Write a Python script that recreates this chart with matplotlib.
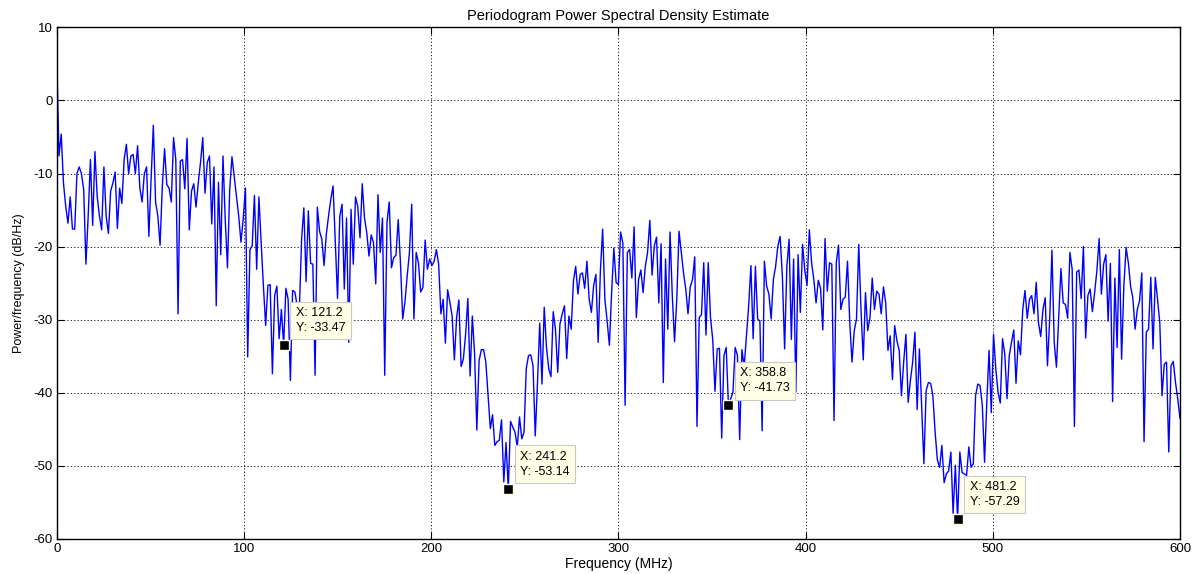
import numpy as np
import matplotlib
matplotlib.use("Agg")
import matplotlib.pyplot as plt

# ---- data ----
freq_step_mhz = 1.2
psd_db = [
    6.0, -7.6, -4.6, -11.3, -14.5, -16.8, -13.2, -17.6, -17.6, -10.0,
    -9.1, -10.0, -12.2, -22.4, -15.8, -8.1, -17.1, -7.0, -13.1, -15.8,
    -17.7, -9.1, -15.8, -18.2, -12.4, -11.3, -9.8, -17.5, -12.0, -14.1,
    -8.1, -6.0, -10.0, -7.6, -7.4, -10.0, -6.2, -12.0, -13.9, -10.0,
    -9.1, -18.6, -10.8, -3.4, -13.9, -15.8, -19.8, -11.7, -6.6, -11.5,
    -12.0, -13.9, -5.1, -8.1, -29.2, -8.3, -8.1, -12.1, -5.2, -17.7,
    -12.4, -11.4, -14.6, -11.3, -8.5, -5.1, -12.7, -8.5, -7.6, -16.9,
    -9.1, -28.1, -11.2, -21.1, -7.6, -16.3, -22.9, -12.2, -7.7, -10.4,
    -13.1, -15.8, -19.4, -16.2, -12.0, -35.1, -20.4, -19.9, -13.0, -23.1,
    -13.2, -19.5, -25.4, -30.8, -25.3, -25.2, -37.4, -26.7, -25.4, -32.6,
    -28.6, -33.47, -25.7, -27.2, -38.3, -26.0, -26.2, -28.1, -28.6, -19.0,
    -14.7, -24.8, -15.1, -22.3, -22.4, -37.6, -14.6, -17.9, -19.0, -22.6,
    -18.3, -15.8, -13.5, -11.7, -19.5, -27.1, -15.8, -14.2, -25.8, -16.1,
    -33.1, -14.9, -22.4, -13.2, -14.5, -18.8, -11.4, -16.1, -18.1, -21.3,
    -18.4, -19.5, -25.1, -12.9, -20.8, -16.1, -37.6, -16.7, -13.9, -22.9,
    -21.5, -21.2, -16.3, -22.2, -29.9, -27.6, -24.0, -20.8, -14.2, -29.9,
    -20.8, -22.2, -26.2, -25.6, -19.1, -23.1, -21.7, -22.6, -22.0, -20.4,
    -22.4, -29.2, -27.2, -33.2, -25.9, -27.6, -29.5, -35.5, -29.7, -27.3,
    -36.4, -35.4, -32.0, -27.1, -37.7, -29.5, -34.7, -45.1, -35.6, -34.1,
    -34.1, -35.8, -40.3, -44.9, -43.0, -47.2, -46.7, -46.5, -43.7, -52.2,
    -46.8, -53.14, -43.9, -44.7, -45.4, -47.4, -43.3, -46.3, -45.4, -36.7,
    -34.9, -34.8, -36.3, -45.9, -38.6, -30.5, -38.8, -28.3, -33.8, -36.7,
    -37.8, -28.9, -31.3, -37.2, -30.6, -29.2, -28.1, -35.3, -29.5, -31.3,
    -24.7, -22.7, -26.5, -23.8, -23.6, -25.7, -22.0, -27.2, -29.0, -25.3,
    -23.8, -33.1, -23.3, -17.6, -27.2, -30.2, -33.5, -26.3, -20.2, -24.9,
    -25.2, -18.0, -19.5, -41.7, -20.8, -20.4, -24.3, -17.3, -29.7, -24.5,
    -23.2, -26.3, -22.7, -20.8, -16.4, -23.9, -19.9, -18.7, -27.7, -19.6,
    -38.6, -21.7, -31.3, -18.0, -26.7, -33.0, -27.2, -17.9, -20.8, -23.6,
    -25.8, -29.2, -25.5, -24.5, -21.4, -44.6, -29.7, -29.3, -22.2, -32.1,
    -22.2, -29.7, -32.7, -39.8, -34.0, -33.9, -46.2, -34.9, -33.8, -41.73,
    -40.8, -39.9, -33.8, -34.9, -46.4, -34.1, -36.4, -32.2, -28.1, -22.6,
    -32.6, -22.7, -29.9, -30.2, -45.2, -22.0, -25.4, -26.5, -29.9, -24.5,
    -22.7, -19.9, -18.6, -24.0, -34.0, -22.7, -19.0, -32.7, -21.7, -39.9,
    -21.1, -29.0, -19.7, -23.3, -25.3, -17.7, -22.2, -24.5, -27.7, -24.6,
    -25.7, -31.4, -18.9, -26.1, -22.2, -22.4, -43.8, -22.2, -19.8, -28.6,
    -27.2, -26.9, -22.0, -30.4, -35.8, -31.5, -29.9, -19.7, -28.6, -35.5,
    -26.3, -31.5, -29.7, -24.3, -28.6, -26.1, -26.5, -29.2, -25.5, -27.7,
    -34.2, -32.2, -38.2, -30.8, -32.9, -34.2, -40.4, -35.8, -32.0, -41.3,
    -38.3, -35.8, -31.7, -42.3, -34.0, -41.7, -49.7, -39.7, -38.6, -38.7,
    -40.4, -45.4, -49.2, -50.2, -47.2, -52.3, -51.1, -50.7, -48.1, -56.5,
    -49.9, -57.29, -48.1, -50.9, -51.1, -51.3, -47.4, -50.2, -49.7, -40.4,
    -38.8, -39.0, -41.7, -49.5, -41.3, -34.2, -42.7, -32.0, -36.7, -39.9,
    -41.4, -32.6, -34.7, -40.8, -34.9, -33.1, -31.4, -38.7, -32.9, -34.8,
    -28.6, -26.0, -29.8, -27.2, -26.7, -29.2, -24.9, -30.4, -32.3, -28.6,
    -27.0, -36.3, -29.9, -20.5, -33.1, -36.5, -29.9, -23.0, -27.7, -27.9,
    -29.8, -20.8, -23.1, -44.6, -23.5, -23.2, -27.1, -20.0, -32.5, -26.7,
    -25.8, -28.9, -26.3, -23.3, -18.9, -26.5, -22.4, -21.1, -30.2, -22.3,
    -41.2, -24.3, -33.8, -20.4, -35.4, -25.4, -20.1, -22.2, -25.4, -27.0,
    -31.3, -28.6, -27.4, -23.6, -46.7, -31.7, -31.3, -24.2, -34.0, -24.2,
    -27.2, -30.4, -40.4, -36.1, -35.8, -48.1, -36.3, -35.7, -38.6, -40.8,
    -43.5,
]
freq_mhz = np.arange(len(psd_db)) * freq_step_mhz

tip_x = [121.2, 241.2, 358.8, 481.2]
tip_y = [-33.47, -53.14, -41.73, -57.29]

x_ticks = [0, 100, 200, 300, 400, 500, 600]
y_ticks = [-60, -50, -40, -30, -20, -10, 0, 10]

title_text = "Periodogram Power Spectral Density Estimate"
x_label = "Frequency (MHz)"
y_label = "Power/frequency (dB/Hz)"

# ---- drawing ----
plt.rcParams['font.family'] = ['Liberation Sans', 'DejaVu Sans']
plt.rcParams['axes.unicode_minus'] = False
fig = plt.figure(figsize=(12.02, 5.74), dpi=100)
ax = fig.add_axes([0.0472, 0.0610, 0.9345, 0.8914])

ax.plot(freq_mhz, psd_db, color=(0, 0, 1), linewidth=1.0)

ax.set_xlim(0, 600)
ax.set_ylim(-60, 10)
ax.set_xticks(x_ticks)
ax.set_yticks(y_ticks)
ax.tick_params(direction='in', length=5, width=0.8, top=True, right=True,
               labelsize=9.5, pad=3)
ax.grid(True, color='black', linestyle=(0, (1.5, 2.5)), linewidth=0.6)
for s in ax.spines.values():
    s.set_linewidth(1.0)
    s.set_color('black')

ax.set_title(title_text, fontsize=10.5, pad=5)
ax.set_xlabel(x_label, fontsize=10, labelpad=1)
ax.set_ylabel(y_label, fontsize=9, labelpad=6)

# data tips
for tx, ty in zip(tip_x, tip_y):
    ax.plot([tx], [ty], marker='s', markersize=7, markerfacecolor='black',
            markeredgecolor='#ffffe6', markeredgewidth=1.0, zorder=5)
    ax.annotate(f"X: {tx:g}\nY: {ty:g}", xy=(tx, ty), xytext=(12, 11),
                textcoords='offset pixels', ha='left', va='bottom',
                fontsize=9, linespacing=1.35, zorder=6,
                bbox=dict(boxstyle='square,pad=0.42', facecolor='#ffffe6',
                          edgecolor='#c8c8c8', linewidth=0.8))

fig.savefig("out.png", dpi=100)
